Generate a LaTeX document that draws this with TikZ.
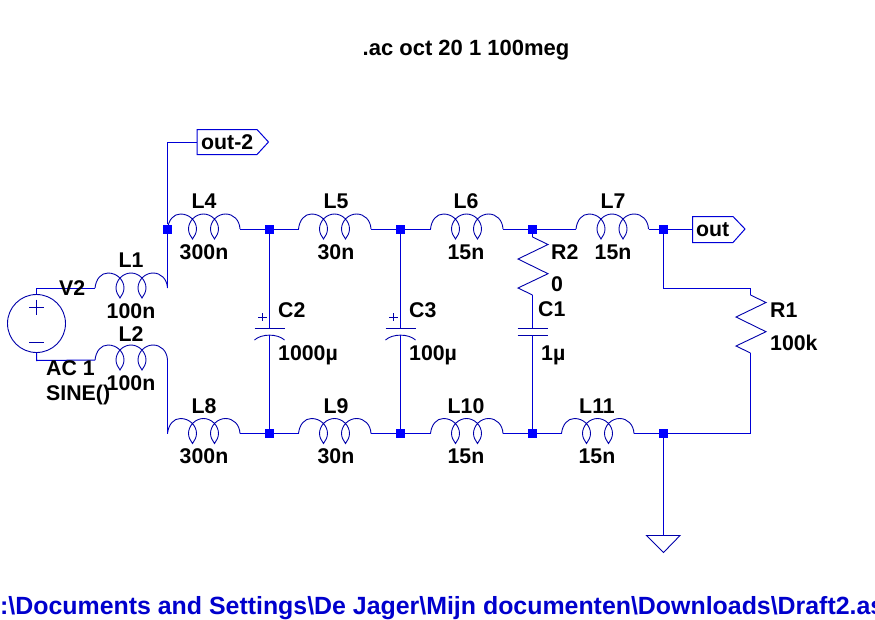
\documentclass[tikz,border=0pt]{standalone}
\usepackage{fontspec}
\setmainfont{Liberation Sans}
\definecolor{wire}{RGB}{0,0,214}
\definecolor{sym}{RGB}{0,0,170}
\definecolor{dotc}{RGB}{0,0,255}
\definecolor{pathc}{RGB}{0,0,205}
\tikzset{
  wireline/.style={draw=wire,line width=1pt},
  symline/.style={draw=sym,line width=0.9pt},
  lab/.style={inner sep=0pt,anchor=base,font=\fontsize{21.3}{25}\selectfont\bfseries,text=black},
  labl/.style={lab,anchor=base west},
  junction/.style={fill=dotc,inner sep=0pt,minimum size=9pt,draw=none,rectangle},
  coil/.pic={
    \coordinate (-a) at (0,0);
    \coordinate (-b) at (72.5,0);
    \draw[symline] (0,0) .. controls (1,-9) and (6,-15) .. (13,-15)
      .. controls (22,-15) and (29,-8) .. (29,0)
      .. controls (29,4) and (27,7) .. (25,10)
      .. controls (23,7) and (21,4) .. (21,0)
      .. controls (21,-8) and (28,-15) .. (36,-15)
      .. controls (44,-15) and (51,-8) .. (51,0)
      .. controls (51,4) and (49,7) .. (47,10)
      .. controls (45,7) and (43,4) .. (43,0)
      .. controls (43,-8) and (50,-15) .. (58,-15)
      .. controls (66,-15) and (72,-9) .. (72.5,0);
  },
  rzig/.pic={
    \coordinate (-a) at (0,0);
    \coordinate (-b) at (0,58);
    \draw[symline] (0,0) -- (15.5,7.5) -- (-14.5,22) -- (15.5,36.7) -- (-14.5,51) -- (0,58);
  },
  polcap/.pic={
    \coordinate (-a) at (0,0);
    \coordinate (-b) at (0,7);
    \draw[symline] (-15,0) -- (15,0);
    \draw[symline] (-15,12) .. controls (-8,5.5) and (8,5.5) .. (15,12);
    \draw[symline] (-11.5,-11) -- (-3,-11) (-7.2,-15) -- (-7.2,-7);
  },
  flatcap/.pic={
    \coordinate (-a) at (0,0);
    \coordinate (-b) at (0,7);
    \draw[symline] (-15,0) -- (15,0) (-15,7) -- (15,7);
  }
}
\begin{document}
\begin{tikzpicture}[x=1pt,y=-1pt]
\useasboundingbox (0,0) rectangle (875,619);
% symbols
\pic (L1) at (95,288) {coil};
\pic (L2) at (95,360) {coil};
\pic (L4) at (167.5,229) {coil};
\pic (L5) at (298.5,229) {coil};
\pic (L6) at (430.5,229) {coil};
\pic (L7) at (576,229) {coil};
\pic (L8) at (167.5,433.5) {coil};
\pic (L9) at (298.5,433.5) {coil};
\pic (L10) at (430.5,433.5) {coil};
\pic (L11) at (561.5,433.5) {coil};
\pic (R2) at (532.5,237) {rzig};
\pic (R1) at (750.5,295) {rzig};
\pic (C2) at (269.5,328) {polcap};
\pic (C3) at (400.5,328) {polcap};
\pic (C1) at (532.5,328) {flatcap};
% source
\node[circle,symline,minimum size=58pt,inner sep=0pt] (V2) at (36.5,323.5) {};
\draw[symline] (29,307) -- (44,307) (36.5,299.5) -- (36.5,314.5) (29,342) -- (44,342);
% junctions
\node[junction] (J1) at (167.5,229) {};
\node[junction] (J2) at (269.5,229) {};
\node[junction] (J3) at (400.5,229) {};
\node[junction] (J4) at (532.5,229) {};
\node[junction] (J5) at (663.5,229) {};
\node[junction] (J6) at (269.5,433.5) {};
\node[junction] (J7) at (400.5,433.5) {};
\node[junction] (J8) at (532.5,433.5) {};
\node[junction] (J9) at (663.5,433.5) {};
% flags
\coordinate (F1) at (197,142);
\coordinate (F2) at (692.5,229);
\draw[wireline] (197,129.5) -- (257,129.5) -- (268.5,142) -- (257,154.5) -- (197,154.5) -- cycle;
\draw[wireline] (692.5,216.5) -- (733,216.5) -- (745,229) -- (733,242.5) -- (692.5,242.5) -- cycle;
\node[labl] (tF1) at (201,149) {out-2};
\node[labl] (tF2) at (696,236) {out};
% ground
\coordinate (G) at (663.5,535.5);
\draw[symline] (646.5,535.5) -- (680,535.5) -- (663.5,552.5) -- cycle;
% wires
\draw[wireline] (V2.north) -- (36.5,288) -- (L1-a);
\draw[wireline] (V2.south) -- (36.5,360.5) -- (L2-a);
\draw[wireline] (L1-b) -- (J1);
\draw[wireline] (J1) |- (F1);
\draw[wireline] (L2-b) -- (L8-a);
\draw[wireline] (L4-b) -- (J2) -- (L5-a);
\draw[wireline] (L5-b) -- (J3) -- (L6-a);
\draw[wireline] (L6-b) -- (J4) -- (L7-a);
\draw[wireline] (L7-b) -- (J5) -- (F2);
\draw[wireline] (L8-b) -- (J6) -- (L9-a);
\draw[wireline] (L9-b) -- (J7) -- (L10-a);
\draw[wireline] (L10-b) -- (J8) -- (L11-a);
\draw[wireline] (L11-b) -- (J9);
\draw[wireline] (J2) -- (C2-a);
\draw[wireline] (C2-b) -- (J6);
\draw[wireline] (J3) -- (C3-a);
\draw[wireline] (C3-b) -- (J7);
\draw[wireline] (J4) -- (R2-a);
\draw[wireline] (R2-b) -- (C1-a);
\draw[wireline] (C1-b) -- (J8);
\draw[wireline] (J5) |- (750.5,288) -- (R1-a);
\draw[wireline] (R1-b) |- (J9);
\draw[wireline] (J9) -- (G);
% labels
\node[lab] (tL1) at (131,267) {L1};
\node[lab] (vL1) at (131,318) {100n};
\node[lab] (tL2) at (131,341) {L2};
\node[lab] (vL2) at (131,390) {100n};
\node[lab] (tL4) at (204,208) {L4};
\node[lab] (vL4) at (204,259) {300n};
\node[lab] (tL5) at (336,208) {L5};
\node[lab] (vL5) at (336,259) {30n};
\node[lab] (tL6) at (466,208) {L6};
\node[lab] (vL6) at (466,259) {15n};
\node[lab] (tL7) at (613,208) {L7};
\node[lab] (vL7) at (613,259) {15n};
\node[lab] (tL8) at (204,413) {L8};
\node[lab] (vL8) at (204,463) {300n};
\node[lab] (tL9) at (336,413) {L9};
\node[lab] (vL9) at (336,463) {30n};
\node[lab] (tL10) at (466,413) {L10};
\node[lab] (vL10) at (466,463) {15n};
\node[lab] (tL11) at (597,413) {L11};
\node[lab] (vL11) at (597,463) {15n};
\node[labl] (tC2) at (278,317) {C2};
\node[labl] (vC2) at (278,360) {1000µ};
\node[labl] (tC3) at (409,317) {C3};
\node[labl] (vC3) at (409,360) {100µ};
\node[labl] (tC1) at (538,316) {C1};
\node[labl] (vC1) at (541,360) {1µ};
\node[labl] (tR2) at (551,259) {R2};
\node[labl] (vR2) at (551,291) {0};
\node[labl] (tR1) at (770,317) {R1};
\node[labl] (vR1) at (770,350) {100k};
\node[labl] (tV2) at (59,295) {V2};
\node[labl] (vV2a) at (46,375) {AC 1};
\node[labl] (vV2b) at (46,400) {SINE()};
\node[lab,font=\fontsize{22}{26}\selectfont\bfseries] (cmd) at (466,55) {.ac oct 20 1 100meg};
\node[inner sep=0pt,anchor=base west,font=\fontsize{24.9}{28}\selectfont\bfseries,text=pathc] (file) at (-18,614) {C:\textbackslash Documents and Settings\textbackslash De Jager\textbackslash Mijn documenten\textbackslash Downloads\textbackslash Draft2.asc};
\end{tikzpicture}
\end{document}
